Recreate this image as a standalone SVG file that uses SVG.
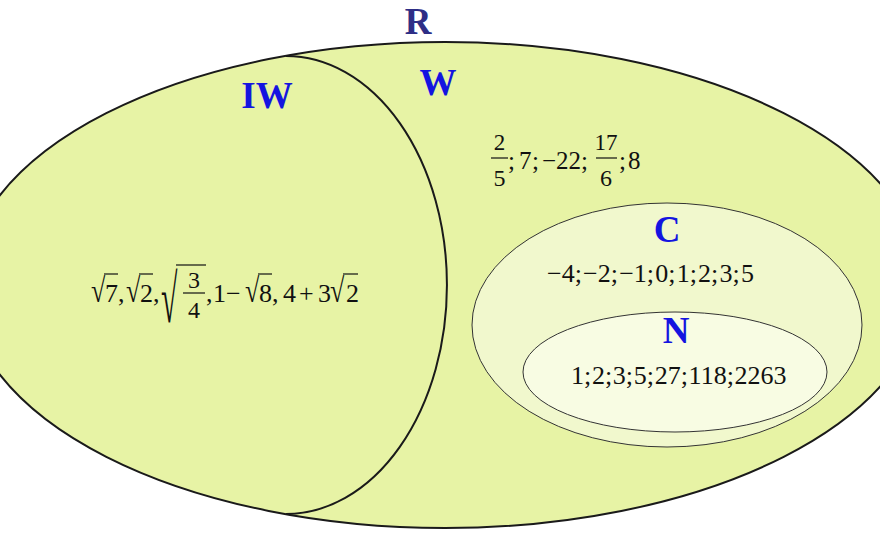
<svg xmlns="http://www.w3.org/2000/svg" width="880" height="540" viewBox="0 0 880 540">
<style>
.lbl{font-family:"Liberation Serif","Times New Roman",serif;font-weight:bold;font-size:37px;fill:#1414e0;text-anchor:middle}
.num{font-family:"Liberation Serif","Times New Roman",serif;font-size:26px;fill:#111}
.frac{font-family:"Liberation Serif","Times New Roman",serif;font-size:24px;fill:#111;text-anchor:middle}
.bar{stroke:#111;stroke-width:1.2;fill:none}
</style>
<rect width="880" height="540" fill="#ffffff"/>
<g id="R">
<ellipse cx="445" cy="285" rx="479" ry="243" fill="#e7f3a5" stroke="#1a1a1a" stroke-width="2"/>
<text x="418" y="34" class="lbl" style="fill:#2e2e86;font-size:37px">R</text>
</g>
<g id="IW">
<path d="M286 56 A161 229 0 0 1 286 514" fill="none" stroke="#1a1a1a" stroke-width="2"/>
<text x="267" y="108" class="lbl">IW</text>
<g class="num">
<text transform="translate(91,302) scale(1,1.3)">√</text>
<line class="bar" x1="104" y1="274" x2="118" y2="274"/>
<text x="105" y="302">7</text>
<text x="118" y="302">,</text>
<text transform="translate(126,302) scale(1,1.3)">√</text>
<line class="bar" x1="139" y1="274" x2="153" y2="274"/>
<text x="140" y="302">2</text>
<text x="153" y="302">,</text>
<text transform="translate(161,322) scale(1.15,2.6)">√</text>
<line class="bar" x1="176" y1="265" x2="206" y2="265"/>
<text x="194" y="288" class="frac">3</text>
<line class="bar" x1="183" y1="293" x2="205" y2="293"/>
<text x="194" y="318" class="frac">4</text>
<text x="206" y="302">,</text>
<text x="213" y="302">1</text>
<text x="226" y="302">−</text>
<text transform="translate(245,302) scale(1,1.3)">√</text>
<line class="bar" x1="258" y1="274" x2="272" y2="274"/>
<text x="259" y="302">8</text>
<text x="272" y="302">,</text>
<text x="283" y="302">4</text>
<text x="299" y="302">+</text>
<text x="318" y="302">3</text>
<text transform="translate(330,302) scale(1,1.3)">√</text>
<line class="bar" x1="343" y1="274" x2="358" y2="274"/>
<text x="346" y="302">2</text>
</g>
</g>
<g id="W">
<text x="438" y="95" class="lbl">W</text>
<text x="499.5" y="150" class="frac" style="font-size:23px">2</text>
<line class="bar" x1="491" y1="158" x2="508" y2="158"/>
<text x="499.5" y="186" class="frac">5</text>
<text y="169" class="num" style="font-size:25px"><tspan x="508">;</tspan><tspan x="519">7</tspan><tspan x="532">;</tspan><tspan x="542">−</tspan><tspan x="556">22</tspan><tspan x="581">;</tspan></text>
<text x="606" y="150" class="frac" style="font-size:23px">17</text>
<line class="bar" x1="596" y1="158" x2="617" y2="158"/>
<text x="606" y="186" class="frac">6</text>
<text y="169" class="num" style="font-size:25px"><tspan x="619">;</tspan><tspan x="628">8</tspan></text>
</g>
<g id="C">
<ellipse cx="667" cy="325" rx="195" ry="122" fill="#f1f8cd" stroke="#333" stroke-width="1"/>
<text x="667" y="242" class="lbl">C</text>
<text x="547" y="282" class="num" style="word-spacing:-5.3px">−4; −2; −1; 0; 1; 2; 3; 5</text>
</g>
<g id="N">
<ellipse cx="675" cy="372" rx="152" ry="60" fill="#f8fce3" stroke="#333" stroke-width="1"/>
<text x="676" y="343" class="lbl">N</text>
<text x="571" y="384" class="num" style="word-spacing:-5.8px">1; 2; 3; 5; 27; 118; 2263</text>
</g>
<g id="connectors"/>
</svg>
